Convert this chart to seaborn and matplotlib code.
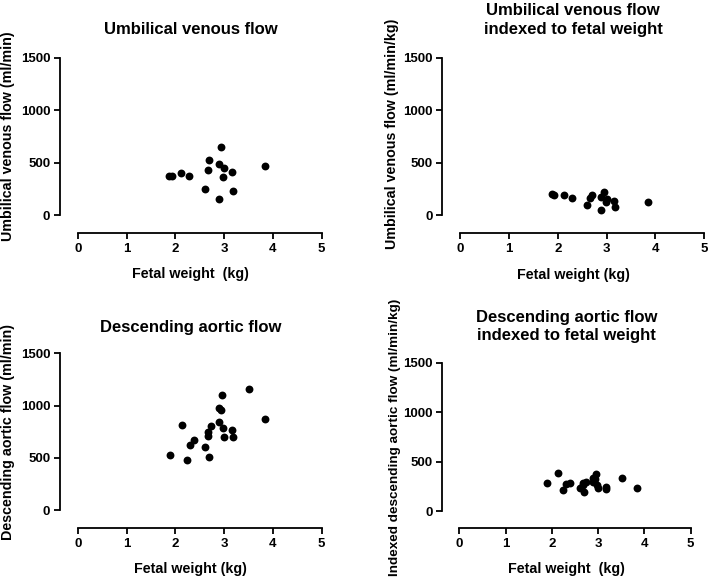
import pandas as pd
import seaborn as sns
import matplotlib.pyplot as plt

# fetal weight (kg) for the umbilical venous panels
uv_weight = [1.88, 1.93, 2.12, 2.29, 2.60, 2.67, 2.70, 2.89, 2.94, 3.00, 2.98, 2.89, 3.16, 3.18, 3.84]
uv_flow = [376, 376, 404, 373, 252, 430, 525, 487, 650, 452, 363, 150, 414, 229, 471]
uv_indexed = [200, 195, 190, 163, 97, 161, 194, 168, 221, 151, 122, 52, 131, 72, 123]

# fetal weight (kg) for the descending aortic panels
da_weight = [1.89, 2.13, 2.24, 2.30, 2.39, 2.60, 2.68, 2.68, 2.70, 2.73,
             2.89, 2.89, 2.94, 2.95, 2.98, 3.00, 3.16, 3.18, 3.52, 3.84]
da_flow = [532, 818, 481, 621, 675, 602, 752, 713, 510, 803,
           847, 978, 959, 1099, 790, 704, 771, 704, 1159, 876]
da_indexed = [281, 384, 215, 270, 282, 232, 281, 266, 189, 294,
              293, 338, 326, 373, 265, 235, 244, 221, 329, 228]

y_ticks = [0, 500, 1000, 1500]
x_ticks = [0, 1, 2, 3, 4, 5]

sns.set_style("ticks", {'axes.edgecolor': 'black', 'xtick.color': 'black',
                        'ytick.color': 'black', 'text.color': 'black',
                        'axes.labelcolor': 'black'})
plt.rcParams['font.family'] = ['Liberation Sans', 'DejaVu Sans']
plt.rcParams['font.weight'] = 'bold'

W, H = 709, 578
fig = plt.figure(figsize=(W / 100, H / 100), dpi=100)

# box = (left, right, top, bottom) in pixels: y spine, x=5, y=1500, x spine
# ylab = (right edge x px, centre y px) of the rotated y label
panels = [
    dict(box=(60, 321.7, 58, 233), x0=77.7, y0=215, x=uv_weight, y=uv_flow,
         title="Umbilical venous flow", ylabel="Umbilical venous flow (ml/min)",
         xlabel="Fetal weight  (kg)", tpad=17, ls=1.2, ysize=10.3, ylab=(15, 136)),
    dict(box=(442.3, 704.3, 58, 233.3), x0=460, y0=215, x=uv_weight, y=uv_indexed,
         title="Umbilical venous flow\nindexed to fetal weight",
         ylabel="Umbilical venous flow (ml/min/kg)", xlabel="Fetal weight (kg)",
         tpad=17, ls=1.4, ysize=10.3, ylab=(399, 134)),
    dict(box=(60, 321.7, 353.3, 528), x0=77.7, y0=510.3, x=da_weight, y=da_flow,
         title="Descending aortic flow", ylabel="Descending aortic flow (ml/min)",
         xlabel="Fetal weight (kg)", tpad=15, ls=1.2, ysize=10.3, ylab=(15, 432)),
    dict(box=(442.3, 690.7, 362.7, 528), x0=459.3, y0=511, x=da_weight, y=da_indexed,
         title="Descending aortic flow\nindexed to fetal weight",
         ylabel="Indexed descending aortic flow (ml/min/kg)", xlabel="Fetal weight  (kg)",
         tpad=16, ls=1.3, ysize=9.7, ylab=(401, 437)),
]

for p in panels:
    left, right, top, bottom = p['box']
    ax = fig.add_axes([left / W, (H - bottom) / H, (right - left) / W, (bottom - top) / H])
    df = pd.DataFrame({'w': p['x'], 'f': p['y']})
    sns.scatterplot(data=df, x='w', y='f', ax=ax, color='black', s=32,
                    edgecolor='black', linewidth=0, clip_on=False)

    # Prism-like offset axes: compute limits so spines sit at the pixel positions
    xpx = (right - p['x0']) / 5
    ypx = (p['y0'] - top) / 1500
    ax.set_xlim(-(p['x0'] - left) / xpx, 5)
    ax.set_ylim(-(bottom - p['y0']) / ypx, 1500)
    ax.spines['left'].set_bounds(0, 1500)
    ax.spines['bottom'].set_bounds(0, 5)
    for s in ['top', 'right']:
        ax.spines[s].set_visible(False)
    for s in ['left', 'bottom']:
        ax.spines[s].set_linewidth(1.3)
    ax.set_xticks(x_ticks)
    ax.set_yticks(y_ticks)
    ax.tick_params(length=4, width=1.3, labelsize=9.5, pad=3)
    for lab in ax.get_xticklabels() + ax.get_yticklabels():
        lab.set_fontweight('bold')

    ax.set_title(p['title'], fontsize=12, fontweight='bold', pad=p['tpad'], linespacing=p['ls'])
    ax.set_xlabel(p['xlabel'], fontsize=10.3, fontweight='bold', labelpad=9)
    ax.set_ylabel(p['ylabel'], fontsize=p['ysize'], fontweight='bold')
    lx, ly = p['ylab']
    ax.yaxis.set_label_coords((lx - left) / (right - left), (bottom - ly) / (bottom - top))

fig.savefig('out.png', dpi=100)
